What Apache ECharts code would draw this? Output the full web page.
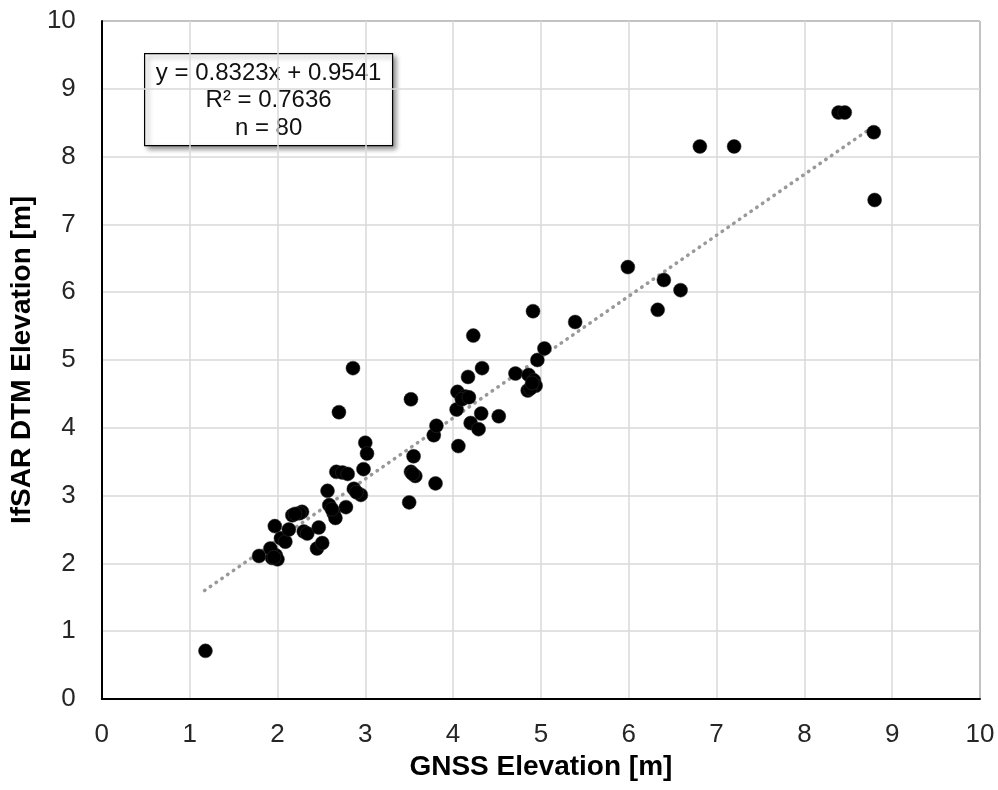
<!DOCTYPE html>
<html><head><meta charset="utf-8">
<script src="https://cdn.jsdelivr.net/npm/echarts@6/dist/echarts.min.js"></script>
<style>html,body{margin:0;padding:0;background:#fff}#c{width:998px;height:790px}</style>
</head><body><div id="c"></div>
<script>
const gnss = [1.18,1.79,1.94,1.98,1.92,2.04,2.09,1.97,2.13,2.17,2.28,2.30,2.34,2.47,2.45,2.51,2.57,2.59,2.64,2.66,2.78,2.67,2.74,2.80,2.87,2.95,2.98,3.00,3.02,2.70,2.86,3.50,3.52,3.57,3.55,3.52,3.80,3.78,3.81,4.06,4.04,4.05,4.14,4.17,4.20,4.29,4.32,4.33,4.23,4.52,4.71,4.86,4.92,4.94,4.85,4.96,5.04,4.91,5.39,5.99,6.40,6.59,6.33,6.81,7.20,8.39,8.46,8.79,8.80,2.00,2.25,2.90,4.10,4.88,2.62,3.54,4.18,2.20,1.96,4.90];
const dtm  = [0.71,2.11,2.08,2.12,2.22,2.37,2.32,2.55,2.50,2.71,2.76,2.47,2.44,2.53,2.22,2.30,3.07,2.86,2.74,2.67,2.83,3.35,3.34,3.32,3.10,3.01,3.39,3.78,3.62,4.23,4.88,2.90,3.35,3.29,3.58,4.42,3.18,3.89,4.03,3.73,4.27,4.53,4.46,4.75,4.07,3.98,4.21,4.88,5.36,4.17,4.80,4.78,4.70,4.62,4.55,5.00,5.17,5.72,5.56,6.37,6.18,6.03,5.74,8.15,8.15,8.65,8.65,8.36,7.36,2.06,2.74,3.05,4.42,4.58,2.80,3.32,4.45,2.73,2.09,4.66];
// trend line as drawn in the picture (endpoints)
const trendX = [1.17, 8.77];
const trendY = [1.60, 8.43];
const statLines = ['y = 0.8323x + 0.9541', 'R² = 0.7636', 'n = 80'];

const pts = gnss.map((x,i)=>[x,dtm[i]]);
const trend = trendX.map((x,i)=>[x,trendY[i]]);

const chart = echarts.init(document.getElementById('c'));
const font = 'Liberation Sans, Arial, sans-serif';
chart.setOption({
  animation:false,
  grid:{left:101,right:18,top:21,bottom:91,show:true,borderColor:'#000',borderWidth:1},
  xAxis:{type:'value',min:0,max:10,interval:1,
    name:'GNSS Elevation [m]',nameLocation:'middle',nameGap:46,
    nameTextStyle:{fontFamily:font,fontSize:28,fontWeight:'bold',color:'#000'},
    axisLine:{show:true,onZero:false,lineStyle:{color:'#000',width:2}},
    axisTick:{show:false},
    axisLabel:{fontFamily:font,fontSize:26,color:'#262626',margin:23},
    splitLine:{show:true,lineStyle:{color:'#d9d9d9',width:1.5}}},
  yAxis:{type:'value',min:0,max:10,interval:1,
    name:'IfSAR DTM Elevation [m]',nameLocation:'middle',nameGap:59,
    nameTextStyle:{fontFamily:font,fontSize:28,fontWeight:'bold',color:'#000'},
    axisLine:{show:true,onZero:false,lineStyle:{color:'#000',width:2}},
    axisTick:{show:false},
    axisLabel:{fontFamily:font,fontSize:26,color:'#262626',margin:26},
    splitLine:{show:true,lineStyle:{color:'#d9d9d9',width:1.5}}},
  series:[
    {type:'line',data:trend,symbol:'none',z:1,
     lineStyle:{color:'#999',width:3.5,type:[0.5,6.5],cap:'round'}},
    {type:'scatter',data:pts,symbol:'circle',symbolSize:14,z:2,
     itemStyle:{color:'#000',borderColor:'#333',borderWidth:0.5,opacity:1}}
  ],
  graphic:[{type:'group',left:144,top:53,z:10,children:[
    {type:'rect',shape:{x:0,y:0,width:248,height:92},
     style:{fill:'#fff',stroke:'#000',lineWidth:1.2,shadowBlur:5,shadowOffsetX:3,shadowOffsetY:3,shadowColor:'rgba(0,0,0,0.45)'}},
    {type:'text',x:124,y:20,style:{text:statLines[0],font:'24px '+font,fill:'#111',align:'center',verticalAlign:'middle'}},
    {type:'text',x:124,y:47,style:{text:statLines[1],font:'24px '+font,fill:'#111',align:'center',verticalAlign:'middle'}},
    {type:'text',x:124,y:75,style:{text:statLines[2],font:'24px '+font,fill:'#111',align:'center',verticalAlign:'middle'}}
  ]}]
});
</script></body></html>
